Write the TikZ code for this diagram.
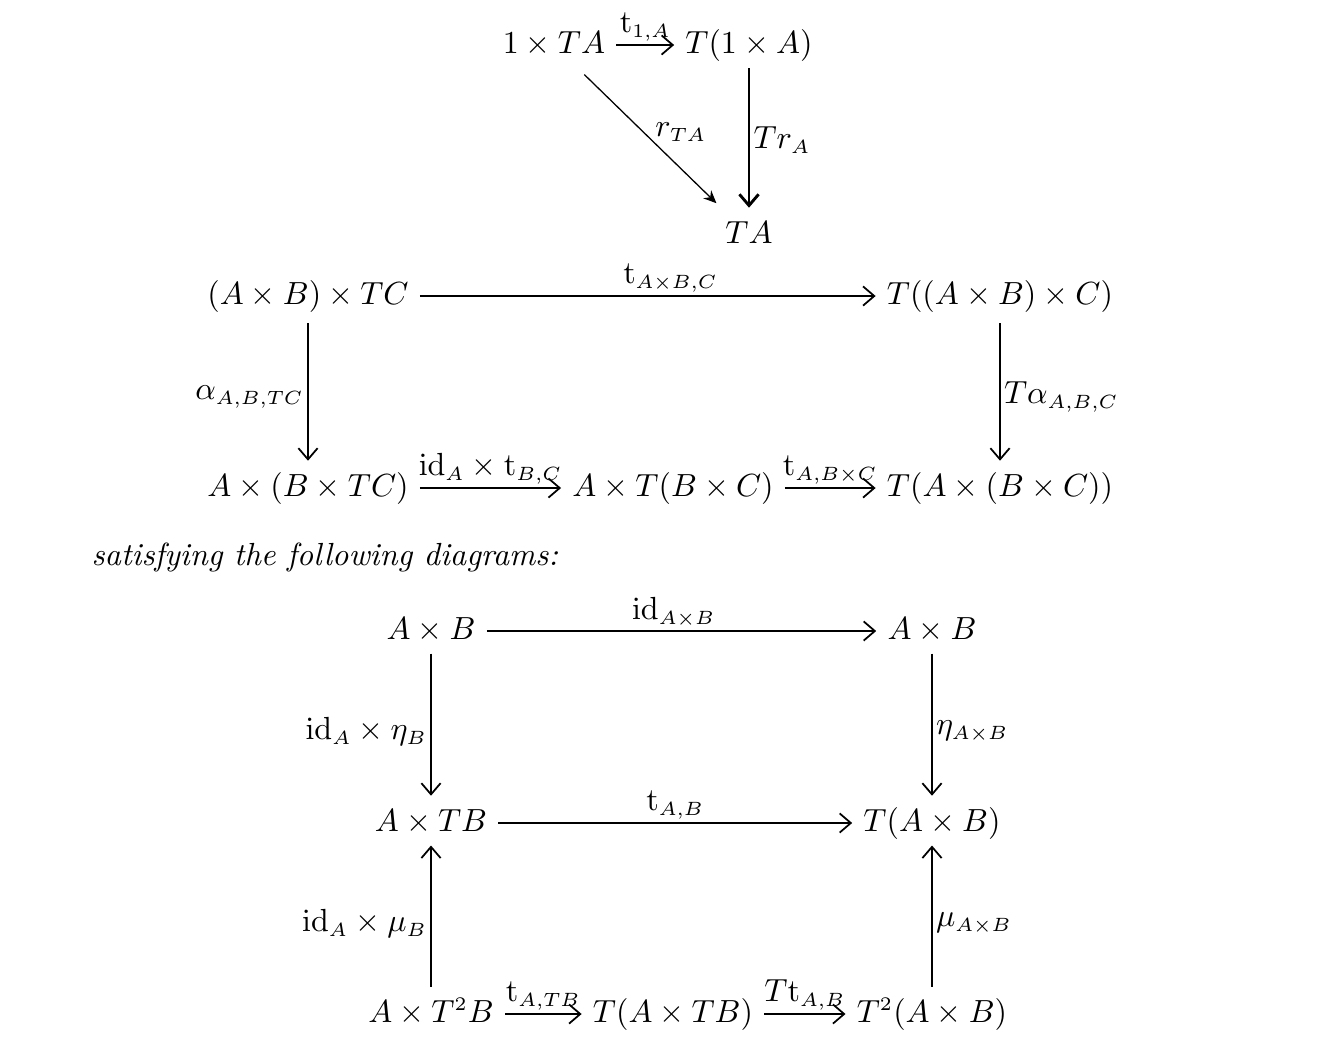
\documentclass[tikz,border=0pt]{standalone}
\DeclareMathSizes{10}{10}{6}{5}
\usetikzlibrary{arrows.meta}
\begin{document}
\begin{tikzpicture}[x=0.3125pt,y=-0.3125pt,
  obj/.style={text height=7.5pt, text depth=2.5pt, inner sep=3.33pt},
  mor/.style={line width=0.55pt, -{Straight Barb[length=3.5pt,width=6pt]}},
  lab/.style={inner sep=1pt},
  vlab/.style={inner sep=1pt, yshift=-1.5pt}]
\useasboundingbox (0,0) rectangle (1318,1042);
% top triangle
\node[obj] (oneTA) at (554,45) {$1\times TA$};
\node[obj] (Tone) at (749,45) {$T(1\times A)$};
\node[obj] (TA) at (749,235) {$TA$};
\draw[mor] (oneTA) -- node[lab,above] {$\mathrm{t}_{1,A}$} (Tone);
\draw[line width=0.4pt, -{Stealth[length=4pt,width=3.5pt]}, shorten >=2pt, shorten <=1pt] (oneTA) -- node[lab,anchor=west,yshift=2.5pt] {$r_{TA}$} (TA);
\draw[mor, line width=0.9pt, shorten <=-1.2pt] (Tone) -- node[lab,right] {$Tr_A$} (TA);
% associativity
\node[obj] (ABTC) at (308,296) {$(A\times B)\times TC$};
\node[obj] (TABC) at (1000,296) {$T((A\times B)\times C)$};
\node[obj] (ABTC2) at (308,488) {$A\times (B\times TC)$};
\node[obj] (ATBC) at (673,488) {$A\times T(B\times C)$};
\node[obj] (TABC2) at (1000,488) {$T(A\times (B\times C))$};
\draw[mor] (ABTC) -- node[lab,above,pos=0.55] {$\mathrm{t}_{A\times B,C}$} (TABC);
\draw[mor] (ABTC) -- node[vlab,left] {$\alpha_{A,B,TC}$} (ABTC2);
\draw[mor] (TABC) -- node[vlab,right] {$T\alpha_{A,B,C}$} (TABC2);
\draw[mor] (ABTC2) -- node[lab,above] {$\mathrm{id}_A\times\mathrm{t}_{B,C}$} (ATBC);
\draw[mor] (ATBC) -- node[lab,above] {$\mathrm{t}_{A,B\times C}$} (TABC2);
% text
\node[inner sep=0pt, anchor=base west] (txt) at (91,565) {\itshape satisfying the following diagrams:};
% unit / multiplication
\node[obj] (AB) at (431,631) {$A\times B$};
\node[obj] (AB2) at (932,631) {$A\times B$};
\node[obj] (ATB) at (431,823) {$A\times TB$};
\node[obj] (TAB) at (932,823) {$T(A\times B)$};
\node[obj] (AT2B) at (431,1014) {$A\times T^2B$};
\node[obj] (TATB) at (673,1014) {$T(A\times TB)$};
\node[obj] (T2AB) at (932,1014) {$T^2(A\times B)$};
\draw[mor] (AB) -- node[lab,above,pos=0.48] {$\mathrm{id}_{A\times B}$} (AB2);
\draw[mor, shorten <=-1.5pt] (AB) -- node[vlab,left] {$\mathrm{id}_A\times\eta_B$} (ATB);
\draw[mor, shorten <=-1.5pt] (AB2) -- node[vlab,right] {$\eta_{A\times B}$} (TAB);
\draw[mor] (ATB) -- node[lab,above] {$\mathrm{t}_{A,B}$} (TAB);
\draw[mor, shorten >=-1.5pt] (AT2B) -- node[vlab,left] {$\mathrm{id}_A\times\mu_B$} (ATB);
\draw[mor, shorten >=-1.5pt] (T2AB) -- node[vlab,right] {$\mu_{A\times B}$} (TAB);
\draw[mor] (AT2B) -- node[lab,above] {$\mathrm{t}_{A,TB}$} (TATB);
\draw[mor] (TATB) -- node[lab,above] {$T\mathrm{t}_{A,B}$} (T2AB);
\end{tikzpicture}
\end{document}
